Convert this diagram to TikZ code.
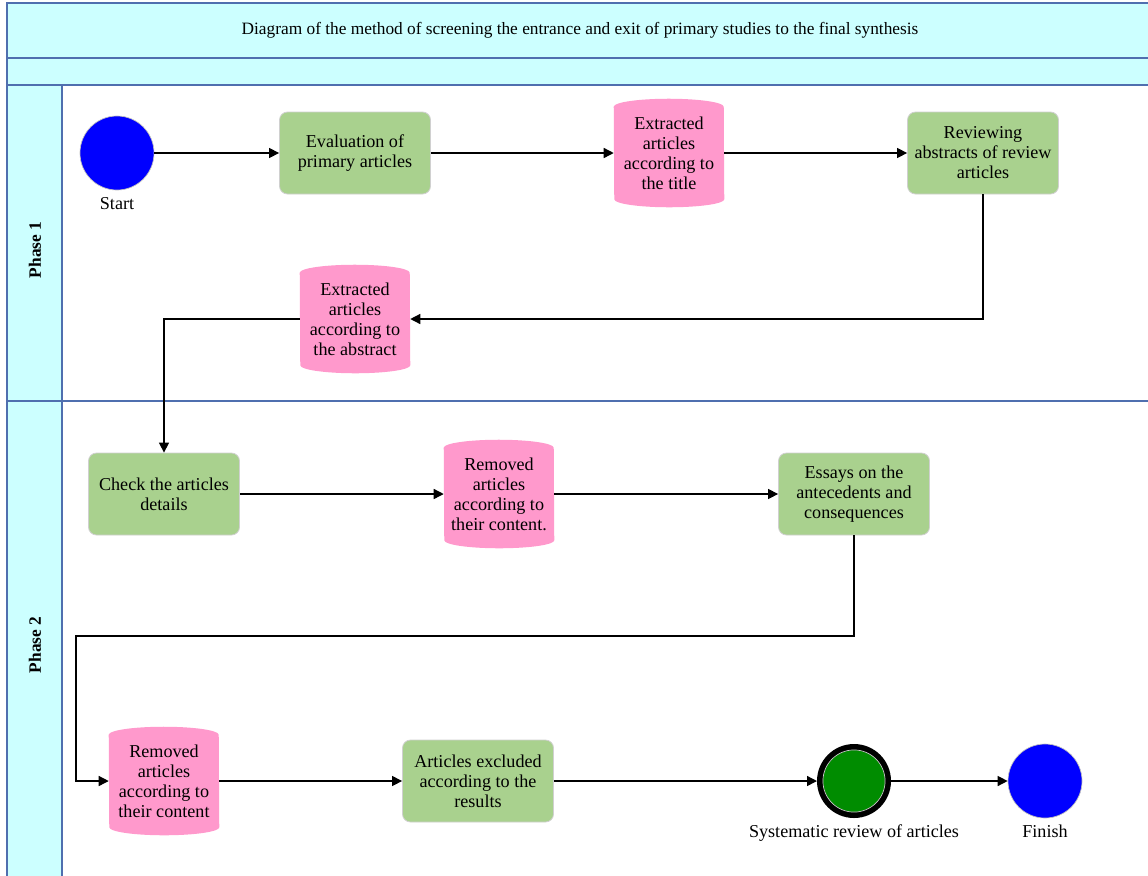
\documentclass[tikz,border=0pt]{standalone}
\usepackage{fontspec}
\setmainfont{Liberation Serif}
\usetikzlibrary{arrows.meta,backgrounds}
\definecolor{lanecyan}{HTML}{CCFFFF}
\definecolor{laneline}{HTML}{4F6FAF}
\definecolor{boxgreen}{HTML}{A9D18E}
\definecolor{boxedge}{HTML}{D0D0D0}
\definecolor{cylpink}{HTML}{FF99CC}
\definecolor{evblue}{HTML}{0000FF}
\definecolor{evgreen}{HTML}{008C00}
\newcommand\cylfill[1]{\fill[cylpink] (#1.north west) arc[start angle=180,end angle=0,x radius=41.25pt,y radius=6pt] -- (#1.south east) arc[start angle=0,end angle=-180,x radius=41.25pt,y radius=6pt] -- cycle;}
\begin{document}
\begin{tikzpicture}[x=0.75pt,y=-0.75pt, font=\fontsize{13.6}{15}\selectfont,
 task/.style={draw=boxedge, fill=boxgreen, rounded corners=6pt, minimum width=113.25pt, minimum height=61.5pt, align=center, inner sep=2pt, line width=0.6pt},
 store/.style={minimum width=82.5pt, minimum height=69pt, align=center, inner sep=0pt},
 event/.style={circle, draw=black!25, fill=evblue, minimum size=55.5pt, inner sep=0pt, line width=0.5pt},
 evlabel/.style={anchor=north, inner sep=0pt},
 flow/.style={-{Triangle[length=7.5pt,width=7.5pt]}, line width=1pt},
 lane/.style={draw=laneline, line width=0.9pt}]
\useasboundingbox (0,0) rectangle (1148,875);
\begin{scope}
\clip (0,0) rectangle (1148,875);
\filldraw[lane, fill=lanecyan] (7,3) rectangle (1170,58);
\filldraw[lane, fill=lanecyan] (7,58) rectangle (1170,85);
\draw[lane] (7,85) rectangle (1170,900);
\filldraw[lane, fill=lanecyan] (7,85) rectangle (62,900);
\draw[lane] (7,401) -- (1170,401);
\end{scope}
\node[font=\fontsize{13}{15}\selectfont] (title) at (580,30) {Diagram of the method of screening the entrance and exit of primary studies to the final synthesis};
\node[rotate=90, font=\fontsize{13}{15}\selectfont\bfseries] (ph1) at (35,250) {Phase 1};
\node[rotate=90, font=\fontsize{13}{15}\selectfont\bfseries] (ph2) at (35,645) {Phase 2};

% Phase 1
\node[event] (start) at (117,153) {};
\node[evlabel] (startlbl) at ([yshift=-5pt]start.south) {Start};
\node[task] (eval) at (355,153) {Evaluation of\\primary articles};
\node[store] (c1) at (669,153) {Extracted\\articles\\according to\\the title};
\node[task] (rev) at (983,153) {Reviewing\\abstracts of review\\articles};
\node[store] (c2) at (355,319) {Extracted\\articles\\according to\\the abstract};

% Phase 2
\node[task] (check) at (164,494) {Check the articles\\details};
\node[store] (c3) at (499,494) {Removed\\articles\\according to\\their content.};
\node[task] (essay) at (854,494) {Essays on the\\antecedents and\\consequences};
\node[store] (c4) at (164,781) {Removed\\articles\\according to\\their content};
\node[task] (excl) at (478,781) {Articles excluded\\according to the\\results};
\node[circle, draw=black, line width=4.5pt, fill=evgreen, minimum size=51pt, inner sep=0pt] (sys) at (854,781) {};
\draw[black!20, line width=0.5pt] (sys.center) circle[radius=23.3pt];
\node[evlabel] (syslbl) at ([yshift=-5pt]sys.south) {Systematic review of articles};
\node[event] (fin) at (1045,781) {};
\node[evlabel] (finlbl) at ([yshift=-5pt]fin.south) {Finish};
\coordinate (bend) at (76,636);

\begin{pgfonlayer}{background}
\fill[white] (0,0) rectangle (1148,875);
\cylfill{c1}
\cylfill{c2}
\cylfill{c3}
\cylfill{c4}
\end{pgfonlayer}

\draw[flow] (start) -- (eval);
\draw[flow] (eval) -- (c1);
\draw[flow] (c1) -- (rev);
\draw[flow] (rev.south) |- (c2.east);
\draw[flow] (c2.west) -| (check.north);
\draw[flow] (check) -- (c3);
\draw[flow] (c3) -- (essay);
\draw[flow] (essay.south) |- (bend) |- (c4.west);
\draw[flow] (c4) -- (excl);
\draw[flow] (excl) -- (sys);
\draw[flow] (sys) -- (fin);
\end{tikzpicture}
\end{document}
